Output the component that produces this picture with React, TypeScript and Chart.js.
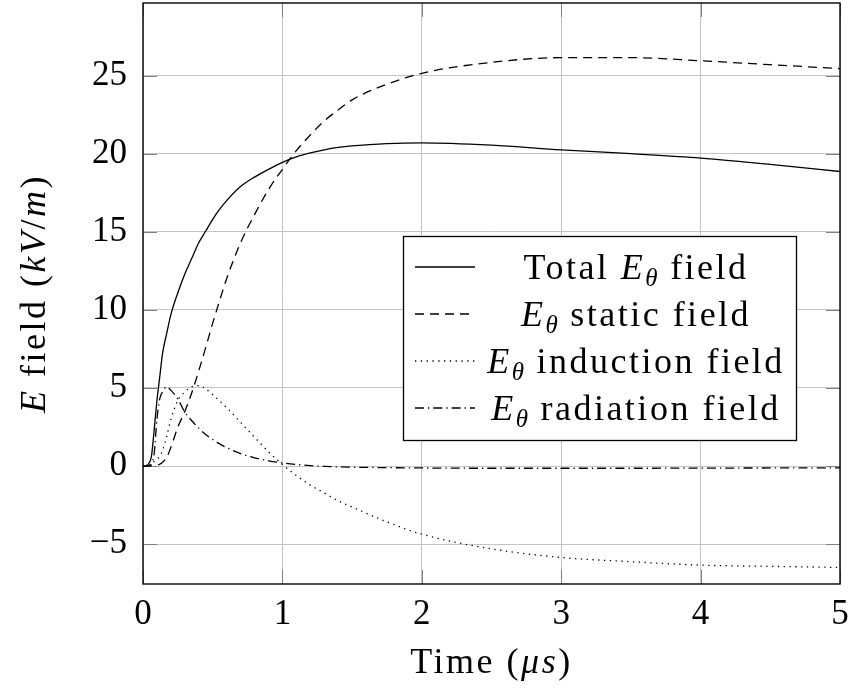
import React, { useEffect, useRef } from "react";
import { Chart, registerables } from "chart.js";

Chart.register(...registerables);

// ---- data (time in µs, fields in kV/m) ----
const time = [0, 0.02, 0.04, 0.06, 0.08, 0.1, 0.12, 0.14, 0.17, 0.2, 0.25, 0.3, 0.35, 0.4, 0.45, 0.5, 0.55, 0.6, 0.7, 0.8, 0.9, 1.0, 1.1, 1.2, 1.3, 1.4, 1.5, 1.75, 2, 2.5, 3, 3.5, 4, 4.5, 5];
const totalField = [0, 0.02, 0.15, 0.6, 2.3, 4.2, 5.7, 7.2, 8.5, 9.7, 11.1, 12.3, 13.3, 14.3, 15.05, 15.8, 16.45, 17.0, 17.9, 18.5, 19.0, 19.45, 19.8, 20.05, 20.25, 20.4, 20.5, 20.65, 20.7, 20.55, 20.25, 20.0, 19.72, 19.32, 18.86];
const staticField = [0, 0, 0, 0.01, 0.03, 0.05, 0.12, 0.25, 0.55, 1.2, 2.5, 3.5, 4.7, 6.1, 7.6, 9.15, 10.6, 12.0, 14.3, 16.1, 17.7, 19.0, 20.2, 21.2, 22.1, 22.8, 23.45, 24.45, 25.15, 25.85, 26.15, 26.15, 25.95, 25.7, 25.45];
const inductionField = [0, 0, 0.05, 0.15, 0.3, 0.45, 0.62, 1.0, 1.9, 3.0, 4.2, 4.75, 5.08, 5.15, 4.95, 4.57, 4.17, 3.75, 2.8, 1.85, 0.92, 0.1, -0.6, -1.22, -1.72, -2.22, -2.62, -3.57, -4.36, -5.3, -5.85, -6.12, -6.34, -6.42, -6.49];
const radiationField = [0, 0, 0.02, 0.15, 0.8, 3.0, 4.3, 4.75, 5.07, 4.85, 4.3, 3.45, 2.9, 2.42, 2.02, 1.7, 1.42, 1.18, 0.8, 0.53, 0.34, 0.2, 0.1, 0.03, -0.02, -0.05, -0.07, -0.1, -0.12, -0.14, -0.14, -0.14, -0.13, -0.12, -0.11];

const xTicks = [0, 1, 2, 3, 4, 5];
const yTicks = [-5, 0, 5, 10, 15, 20, 25];

const seriesLabels = ["Total Eθ field", "Eθ static field", "Eθ induction field", "Eθ radiation field"];

type Seg = { t: string; it?: boolean; sub?: boolean };

const legendTexts: Seg[][] = [
  [{ t: "Total " }, { t: "E", it: true }, { t: "θ", it: true, sub: true }, { t: " field" }],
  [{ t: "E", it: true }, { t: "θ", it: true, sub: true }, { t: " static field" }],
  [{ t: "E", it: true }, { t: "θ", it: true, sub: true }, { t: " induction field" }],
  [{ t: "E", it: true }, { t: "θ", it: true, sub: true }, { t: " radiation field" }],
];
const xTitle: Seg[] = [{ t: "Time (" }, { t: "μs", it: true }, { t: ")" }];
const yTitle: Seg[] = [
  { t: "E", it: true },
  { t: " field (" },
  { t: "kV", it: true },
  { t: "/" },
  { t: "m", it: true },
  { t: ")" },
];

const FONT = '"Liberation Serif", "DejaVu Serif", serif';
const TICK_FS = 35;
const FS = 36;
const LS = 2.5;

const dashes: number[][] = [[], [9, 6], [1.3, 4.5], [9, 4, 1.3, 4]];

function fmt(v: number) {
  return v < 0 ? "\u2212" + Math.abs(v) : String(v);
}

function segFont(s: Seg, size: number) {
  const sz = s.sub ? Math.round(size * 0.7) : size;
  return `${s.it ? "italic " : ""}${sz}px ${FONT}`;
}

function setLS(ctx: any, px: number) {
  if ("letterSpacing" in ctx) ctx.letterSpacing = px + "px";
}

function richWidth(ctx: CanvasRenderingContext2D, segs: Seg[], size: number) {
  let w = 0;
  for (const s of segs) {
    ctx.font = segFont(s, size);
    setLS(ctx, s.sub ? 1 : LS);
    w += ctx.measureText(s.t).width;
  }
  return w;
}

function drawRich(ctx: CanvasRenderingContext2D, segs: Seg[], cx: number, baseline: number, size: number) {
  const w = richWidth(ctx, segs, size);
  let x = cx - w / 2;
  ctx.textAlign = "left";
  ctx.textBaseline = "alphabetic";
  ctx.fillStyle = "#000";
  for (const s of segs) {
    ctx.font = segFont(s, size);
    setLS(ctx, s.sub ? 1 : LS);
    ctx.fillText(s.t, x, baseline + (s.sub ? size * 0.2 : 0));
    x += ctx.measureText(s.t).width;
  }
  setLS(ctx, 0);
}

const decorPlugin = {
  id: "decor",
  beforeDatasetsDraw(chart: any) {
    const { ctx, chartArea } = chart;
    const { left, right, top, bottom } = chartArea;
    const xs = chart.scales.x;
    const ys = chart.scales.y;
    ctx.save();
    ctx.strokeStyle = "#808080";
    ctx.lineWidth = 1;
    const L = 14;
    for (const v of yTicks) {
      const y = Math.round(ys.getPixelForValue(v)) + 0.5;
      ctx.beginPath();
      ctx.moveTo(left, y);
      ctx.lineTo(left + L, y);
      ctx.moveTo(right - L, y);
      ctx.lineTo(right, y);
      ctx.stroke();
    }
    for (const v of xTicks) {
      const x = Math.round(xs.getPixelForValue(v)) + 0.5;
      ctx.beginPath();
      ctx.moveTo(x, bottom);
      ctx.lineTo(x, bottom - L);
      ctx.moveTo(x, top);
      ctx.lineTo(x, top + L);
      ctx.stroke();
    }
    ctx.restore();
  },
  afterDraw(chart: any) {
    const { ctx, chartArea } = chart;
    const { left, right, top, bottom } = chartArea;
    ctx.save();
    // frame
    ctx.strokeStyle = "#000";
    ctx.lineWidth = 1.4;
    ctx.strokeRect(left, top, right - left, bottom - top);

    // legend
    const bx = 403.5, by = 236.5, bw = 393, bh = 204;
    ctx.fillStyle = "#fff";
    ctx.fillRect(bx, by, bw, bh);
    ctx.strokeStyle = "#000";
    ctx.lineWidth = 1.3;
    ctx.strokeRect(bx, by, bw, bh);
    const rowBase = [279, 326, 373, 420];
    chart.data.datasets.forEach((ds: any, i: number) => {
      const ly = rowBase[i] - 12;
      ctx.save();
      ctx.strokeStyle = "#000";
      ctx.lineWidth = 1.3;
      ctx.setLineDash(ds.borderDash || []);
      ctx.beginPath();
      ctx.moveTo(415, ly);
      ctx.lineTo(475, ly);
      ctx.stroke();
      ctx.restore();
      drawRich(ctx, legendTexts[i], 636, rowBase[i], FS);
    });

    // axis titles
    drawRich(ctx, xTitle, (left + right) / 2, 673, FS);
    ctx.save();
    ctx.translate(45, (top + bottom) / 2);
    ctx.rotate(-Math.PI / 2);
    drawRich(ctx, yTitle, 0, 0, FS);
    ctx.restore();
    ctx.restore();
  },
};

export default function App() {
  const ref = useRef<HTMLCanvasElement | null>(null);

  useEffect(() => {
    if (!ref.current) return;
    const series = [totalField, staticField, inductionField, radiationField];
    const chart = new Chart(ref.current, {
      type: "line",
      data: {
        datasets: series.map((vals, i) => ({
          label: seriesLabels[i],
          data: time.map((t, k) => ({ x: t, y: vals[k] })),
          borderColor: "#000",
          borderWidth: 1.3,
          borderDash: dashes[i],
          pointRadius: 0,
          fill: false,
          cubicInterpolationMode: "monotone" as const,
        })),
      },
      options: {
        animation: false,
        responsive: false,
        layout: { padding: { left: 0, right: 12, top: 3, bottom: 0 } },
        plugins: { legend: { display: false }, tooltip: { enabled: false } },
        scales: {
          x: {
            type: "linear",
            min: 0,
            max: 5,
            afterBuildTicks: (s: any) => {
              s.ticks = xTicks.map((v) => ({ value: v }));
            },
            afterFit: (s: any) => {
              s.height = 108;
              s.paddingLeft = 0;
              s.paddingRight = 0;
            },
            grid: { color: "#c4c4c4", lineWidth: 1, drawTicks: false },
            border: { display: false },
            ticks: {
              padding: 10,
              color: "#000",
              maxRotation: 0,
              autoSkip: false,
              font: { family: FONT, size: TICK_FS },
              callback: (v: any) => fmt(Number(v)),
            },
          },
          y: {
            type: "linear",
            min: -7.55,
            max: 29.65,
            afterBuildTicks: (s: any) => {
              s.ticks = yTicks.map((v) => ({ value: v }));
            },
            afterFit: (s: any) => {
              s.width = 143;
              s.paddingTop = 0;
              s.paddingBottom = 0;
            },
            grid: { color: "#c4c4c4", lineWidth: 1, drawTicks: false },
            border: { display: false },
            ticks: {
              padding: 16,
              color: "#000",
              autoSkip: false,
              font: { family: FONT, size: TICK_FS },
              callback: (v: any) => fmt(Number(v)),
            },
          },
        },
      },
      plugins: [decorPlugin],
    } as any);
    return () => chart.destroy();
  }, []);

  return (
    <div style={{ position: "fixed", left: 0, top: 0, width: 852, height: 692, background: "#fff" }}>
      <canvas ref={ref} width={852} height={692} style={{ width: 852, height: 692, display: "block" }} />
    </div>
  );
}
